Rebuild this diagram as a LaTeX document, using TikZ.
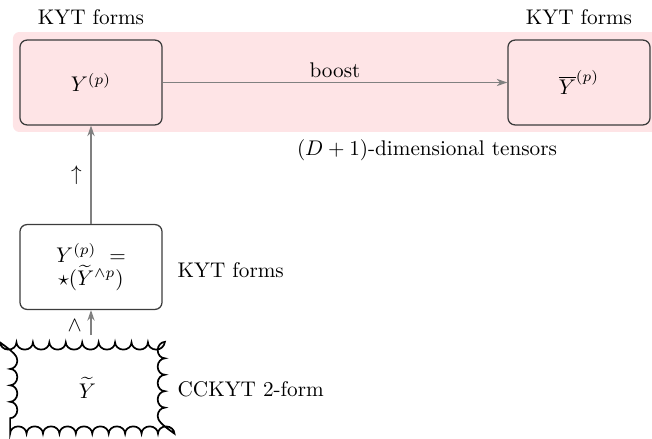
\documentclass[tikz,border=0pt]{standalone}
\usetikzlibrary{arrows.meta,decorations.pathmorphing}
\definecolor{bgpink}{RGB}{254,228,230}
\definecolor{boxline}{RGB}{60,60,60}
\tikzset{
  kbox/.style={draw=boxline, line width=0.6pt, rounded corners=3.3pt,
    minimum width=67pt, minimum height=40pt, align=center, inner sep=2pt},
  wavybox/.style={draw=black, thick, decorate,
    decoration={bumps, segment length=15.5pt, amplitude=3.4pt},
    minimum width=73pt, minimum height=43pt},
  link/.style={draw=gray, line width=0.75pt, -{Stealth[length=5pt,width=3.4pt,inset=1.6pt]}},
  lbl/.style={inner sep=2pt}
}
\begin{document}
\begin{tikzpicture}[x=0.4717pt,y=-0.4717pt]
\useasboundingbox (0,0) rectangle (652,439);
% shaded band behind the (D+1)-dimensional objects
\fill[bgpink, rounded corners=3pt] (13,32) rectangle (670,132);

\node[kbox, fill=bgpink] (Y)  at (91,82.5)  {$Y^{(p)}$};
\node[kbox, fill=bgpink] (Yb) at (579,82.5) {$\overline{Y}^{(p)}$};
\node[kbox, fill=white]  (Ys) at (91,267)   {$Y^{(p)}\ =$\\[-1pt]$\star(\widetilde{Y}^{\wedge p})$};
\node[wavybox] (Yt) at (87.5,388) {$\widetilde{Y}$};

\node[lbl] (k1) at (91,17)  {KYT forms};
\node[lbl] (k2) at (579,17) {KYT forms};
\node[lbl, anchor=west] (k3) at (173,270) {KYT forms};
\node[lbl, anchor=west] (k4) at (173,389) {CCKYT 2-form};
\node[lbl] (dim) at (427,150) {$(D+1)$-dimensional tensors};

\draw[link] (Y) -- node[above, lbl] {boost} (Yb);
\draw[link] (Ys.north) -- node[left, lbl, xshift=-2pt] {$\uparrow$} (Y.south);
\draw[link, shorten <=3pt] (Ys.south |- Yt.north) -- node[left, lbl, xshift=-2pt] {$\wedge$} (Ys.south);
\end{tikzpicture}
\end{document}
